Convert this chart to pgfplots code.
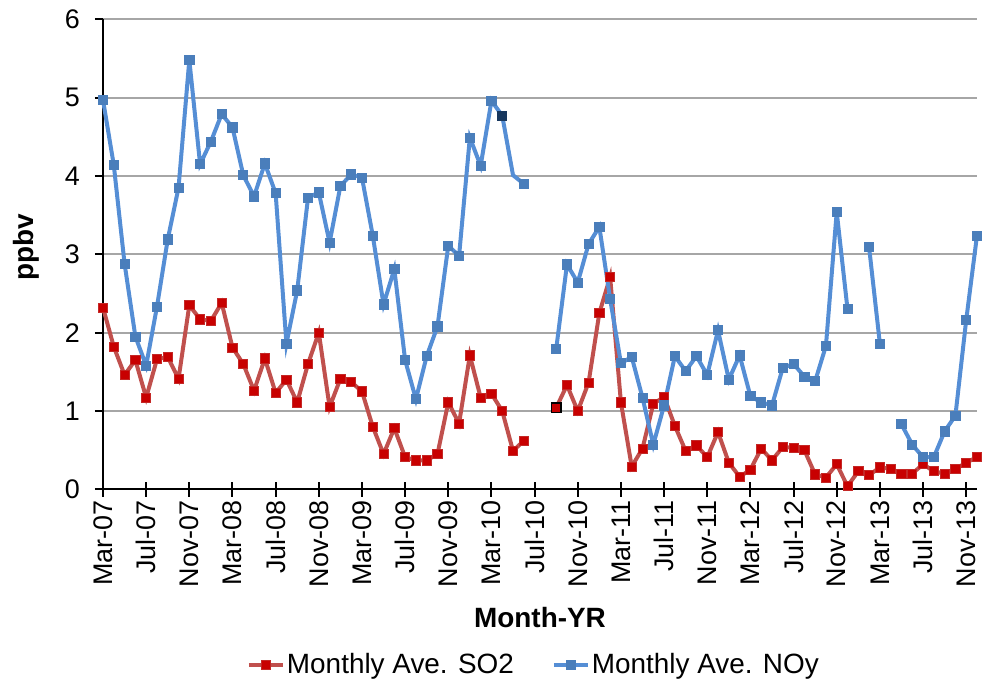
\documentclass[border=0pt]{standalone}
\usepackage{fontspec}
\setmainfont{Liberation Sans}
\usepackage{pgfplots}
\usepackage{pgfplotstable}
\pgfplotsset{compat=1.18}
\definecolor{so2line}{RGB}{192,80,77}
\definecolor{so2mark}{RGB}{200,0,0}
\definecolor{noyline}{RGB}{85,142,213}
\definecolor{noymark}{RGB}{74,126,187}
\definecolor{noydark}{RGB}{23,55,94}
\definecolor{gridgray}{RGB}{166,166,166}

\pgfplotstableread{
i so2
0 2.32
1 1.82
2 1.46
3 1.65
4 1.17
5 1.66
6 1.69
7 1.41
8 2.35
9 2.17
10 2.15
11 2.38
12 1.81
13 1.60
14 1.26
15 1.67
16 1.23
17 1.40
18 1.11
19 1.60
20 2.00
21 1.05
22 1.41
23 1.37
24 1.25
25 0.80
26 0.45
27 0.78
28 0.41
29 0.37
30 0.37
31 0.45
32 1.11
33 0.84
34 1.71
35 1.17
36 1.22
37 1.00
38 0.49
39 0.62
40 nan
41 nan
42 1.04
43 1.33
44 1.00
45 1.36
46 2.25
47 2.71
48 1.11
49 0.29
50 0.52
51 1.09
52 1.18
53 0.81
54 0.49
55 0.56
56 0.41
57 0.73
58 0.34
59 0.16
60 0.25
61 0.52
62 0.37
63 0.54
64 0.53
65 0.50
66 0.19
67 0.15
68 0.32
69 0.04
70 0.23
71 0.18
72 0.28
73 0.26
74 0.20
75 0.20
76 0.32
77 0.23
78 0.20
79 0.26
80 0.34
81 0.41
}\sotwo

\pgfplotstableread{
i noy
0 4.97
1 4.14
2 2.88
3 1.95
4 1.58
5 2.33
6 3.19
7 3.85
8 5.48
9 4.15
10 4.44
11 4.79
12 4.62
13 4.01
14 3.74
15 4.16
16 3.78
17 1.86
18 2.54
19 3.72
20 3.79
21 3.15
22 3.87
23 4.02
24 3.98
25 3.24
26 2.36
27 2.81
28 1.65
29 1.15
30 1.70
31 2.08
32 3.11
33 2.98
34 4.49
35 4.13
36 4.96
37 4.77
38 nan
39 3.90
40 nan
41 nan
42 1.79
43 2.87
44 2.64
45 3.13
46 3.35
47 2.43
48 1.61
49 1.69
50 1.17
51 0.57
52 1.07
53 1.70
54 1.51
55 1.70
56 1.46
57 2.03
58 1.40
59 1.71
60 1.19
61 1.11
62 1.07
63 1.55
64 1.60
65 1.44
66 1.38
67 1.83
68 3.54
69 2.30
70 nan
71 3.09
72 1.86
73 nan
74 0.83
75 0.57
76 0.41
77 0.41
78 0.74
79 0.94
80 2.16
81 3.24
}\noy

\begin{document}
\begin{tikzpicture}
\useasboundingbox (-51.5bp,-98.85bp) rectangle (440.5bp,244.65bp);
\begin{axis}[
  at={(0,0)}, anchor=origin,
  scale only axis, width=437bp, height=235bp,
  xmin=0, xmax=81, ymin=0, ymax=6,
  clip=false,
  axis x line*=bottom, axis y line*=left,
  axis line style={black, line width=1bp, -},
  xtick={0,4,...,80},
  xticklabels={Mar-07,Jul-07,Nov-07,Mar-08,Jul-08,Nov-08,Mar-09,Jul-09,Nov-09,Mar-10,Jul-10,Nov-10,Mar-11,Jul-11,Nov-11,Mar-12,Jul-12,Nov-12,Mar-13,Jul-13,Nov-13},
  ytick={0,1,2,3,4,5,6},
  xtick align=center, ytick align=outside,
  major tick length=4bp,
  xtick style={/pgfplots/major tick length=7.5bp},
  tick style={black, line width=1bp},
  ymajorgrids, grid style={gridgray, line width=1bp},
  tick label style={font=\fontsize{13.5}{15}\selectfont},
  /pgf/number format/assume math mode=true,
  xticklabel style={rotate=90, anchor=east},
  yticklabel style={xshift=-4bp},
  xlabel={Month-YR},
  xlabel style={font=\bfseries\fontsize{14}{16}\selectfont, at={(axis description cs:0.5,-0.272)}, anchor=center},
  ylabel={ppbv},
  ylabel style={font=\bfseries\fontsize{14}{16}\selectfont, at={(axis description cs:-0.088,0.515)}, anchor=center},
  legend style={at={(0.493,-0.374)}, anchor=center, draw=none, legend columns=2,
    font=\fontsize{14}{16}\selectfont,
    /tikz/every even column/.append style={column sep=18bp},
    nodes={inner xsep=1bp}},
  legend cell align=left,
  unbounded coords=jump,
]
\addplot[so2line, line width=2bp, mark=square*, mark size=2.3bp,
  mark options={fill=so2mark, draw=so2line!50!so2mark, line width=0.4bp}]
  table[x=i, y=so2] {\sotwo};
\addlegendentry{Monthly Ave. SO2}
\addplot[forget plot, noyline, line width=2bp] coordinates {(37,4.77) (38,4.01) (39,3.90)};
\addplot[noyline, line width=2bp, mark=square*, mark size=2.3bp,
  mark options={fill=noymark, draw=noymark, line width=0.4bp}]
  table[x=i, y=noy] {\noy};
\addlegendentry{Monthly Ave. NOy}
\addplot[forget plot, only marks, mark=square*, mark size=2.3bp,
  mark options={fill=noydark, draw=noydark, line width=0.4bp}] coordinates {(37,4.77)};
\addplot[forget plot, only marks, mark=square*, mark size=2.3bp,
  mark options={fill=so2mark, draw=black, line width=0.8bp}] coordinates {(42,1.04)};
\end{axis}
\end{tikzpicture}
\end{document}
